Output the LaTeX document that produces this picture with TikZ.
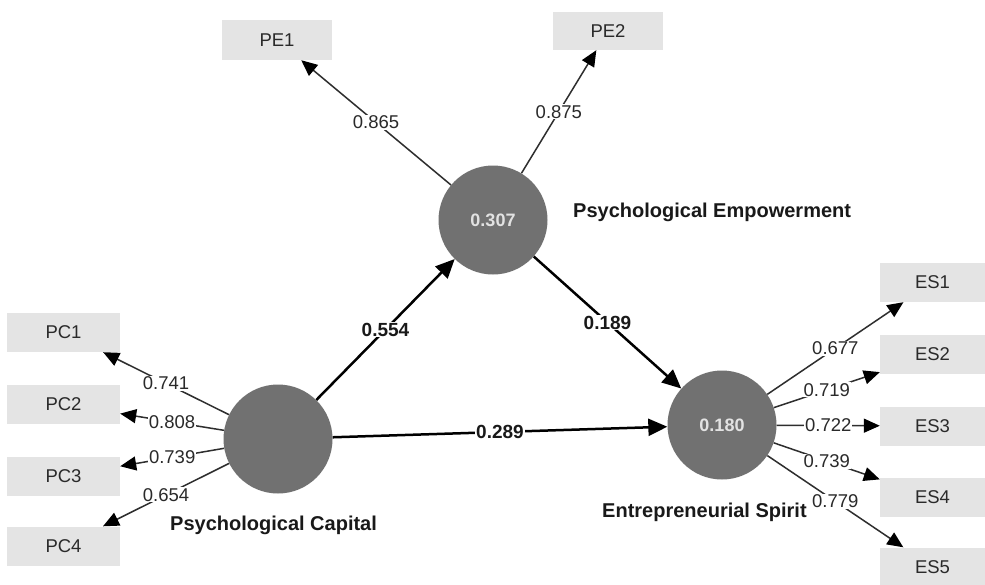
\documentclass[tikz,border=0pt]{standalone}
\usepackage{fontspec}
\setmainfont{Liberation Sans}
\usetikzlibrary{arrows.meta}
\definecolor{boxgray}{HTML}{E4E4E4}
\definecolor{lvgray}{HTML}{717171}
\definecolor{lvtext}{HTML}{E2E2E2}
\definecolor{txtgray}{HTML}{2A2A2A}
\definecolor{linegray}{HTML}{2E2E2E}
\begin{document}
\begin{tikzpicture}[x=1pt,y=-1pt,
  box/.style={fill=boxgray, minimum width=113pt, minimum height=39pt, inner sep=0pt,
    font=\fontsize{18.5}{18.5}\selectfont, text=txtgray},
  esbox/.style={box, minimum width=105pt},
  lv/.style={circle, fill=lvgray, minimum size=109pt, inner sep=0pt,
    font=\bfseries\fontsize{18}{18}\selectfont, text=lvtext},
  load/.style={draw=linegray, line width=1.5pt, -{Triangle[length=16pt,width=14pt,color=black]}},
  struct/.style={draw=black, line width=2.5pt, -{Triangle[length=19pt,width=17pt]}},
  ll/.style={fill=white, inner sep=1pt, font=\fontsize{18.5}{18.5}\selectfont, text=txtgray},
  pl/.style={fill=white, inner sep=1pt, font=\bfseries\fontsize{19}{19}\selectfont, text=black!90},
  lvname/.style={font=\bfseries\fontsize{20}{20}\selectfont, text=black!90, inner sep=0pt}
]
\useasboundingbox[fill=white] (0,0) rectangle (985,584);

% latent variables
\node[lv] (pc) at (278,439) {};
\node[lv] (pe) at (493,220) {0.307};
\node[lv] (es) at (722,425) {0.180};

\node[lvname, anchor=west] (pcn) at (170,525) {Psychological Capital};
\node[lvname, anchor=west] (pen) at (573,212) {Psychological Empowerment};
\node[lvname, anchor=west] (esn) at (602,512) {Entrepreneurial Spirit};

% indicators
\node[box] (pc1) at (63.5,332.5) {PC1};
\node[box] (pc2) at (63.5,404.5) {PC2};
\node[box] (pc3) at (63.5,476) {PC3};
\node[box] (pc4) at (63.5,546) {PC4};
\node[box, minimum width=110pt, minimum height=40pt] (pe1) at (277,40) {PE1};
\node[box, minimum width=110pt, minimum height=38pt] (pe2) at (608,31) {PE2};
\node[esbox] (es1) at (932.5,282.5) {ES1};
\node[esbox] (es2) at (932.5,354.5) {ES2};
\node[esbox] (es3) at (932.5,426) {ES3};
\node[esbox] (es4) at (932.5,497.5) {ES4};
\node[esbox] (es5) at (932.5,567) {ES5};

% loadings
\draw[load] (pc) -- node[ll, midway] {0.741} (pc1);
\draw[load] (pc) -- node[ll, midway] {0.808} (pc2);
\draw[load] (pc) -- node[ll, midway] {0.739} (pc3);
\draw[load] (pc) -- node[ll, midway] {0.654} (pc4);
\draw[load] (pe) -- node[ll, midway] {0.865} (pe1);
\draw[load] (pe) -- node[ll, midway] {0.875} (pe2);
\draw[load] (es) -- node[ll, midway] {0.677} (es1);
\draw[load] (es) -- node[ll, midway] {0.719} (es2);
\draw[load] (es) -- node[ll, midway] {0.722} (es3);
\draw[load] (es) -- node[ll, midway] {0.739} (es4);
\draw[load] (es) -- node[ll, midway] {0.779} (es5);

% structural paths
\draw[struct] (pc) -- node[pl, midway] {0.554} (pe);
\draw[struct] (pe) -- node[pl, midway] {0.189} (es);
\draw[struct] (pc) -- node[pl, midway] {0.289} (es);
\end{tikzpicture}
\end{document}
